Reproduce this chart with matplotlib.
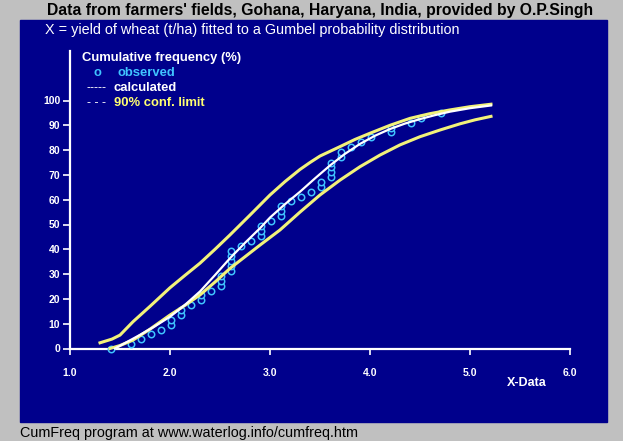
import numpy as np
import matplotlib.pyplot as plt
from matplotlib.patches import Rectangle

plt.rcParams['font.family'] = ['Liberation Sans', 'DejaVu Sans']

# observed points (x = yield t/ha, y = cumulative frequency %)
obs_x = [1.41, 1.61, 1.71, 1.81, 1.91, 2.01, 2.01, 2.11, 2.11, 2.21,
         2.31, 2.31, 2.41, 2.51, 2.51, 2.51, 2.61, 2.61, 2.61, 2.61,
         2.61, 2.71, 2.81, 2.91, 2.91, 2.91, 3.01, 3.11, 3.11, 3.11,
         3.21, 3.31, 3.41, 3.51, 3.51, 3.61, 3.61, 3.61, 3.61, 3.71,
         3.71, 3.81, 3.91, 4.01, 4.21, 4.21, 4.41, 4.51, 4.71]
obs_y = [0.0, 1.8, 3.7, 5.7, 7.6, 9.6, 11.5, 13.5, 15.5, 17.5,
         19.4, 21.5, 23.3, 25.2, 27.2, 29.2, 31.3, 33.4, 35.4, 37.4,
         39.3, 41.5, 43.5, 45.5, 47.5, 49.5, 51.5, 53.5, 55.5, 57.5,
         59.3, 61.2, 63.2, 65.1, 67.1, 69.0, 71.0, 73.0, 75.0, 77.2,
         79.2, 81.2, 83.2, 85.2, 87.1, 89.1, 91.1, 93.1, 95.1]

# calculated Gumbel curve
calc_x = [1.45, 1.6, 1.7, 1.85, 2.0, 2.15, 2.3, 2.45, 2.6, 2.75, 2.9, 3.0,
          3.15, 3.3, 3.45, 3.6, 3.75, 3.9, 4.05, 4.2, 4.35, 4.5, 4.65, 4.8,
          5.0, 5.21]
calc_y = [0.0, 3.3, 5.5, 9.0, 12.8, 17.6, 23.0, 29.6, 36.4, 42.6, 48.5, 52.8,
          58.2, 63.2, 68.6, 73.8, 78.5, 82.5, 85.8, 88.5, 90.7, 92.5, 94.1,
          95.5, 96.9, 98.0]

# 90% confidence limits
up_x = [1.3, 1.42, 1.5, 1.63, 1.8, 2.0, 2.15, 2.3, 2.45, 2.6, 2.8, 3.0,
        3.15, 3.3, 3.4, 3.5, 3.7, 3.85, 4.0, 4.2, 4.4, 4.6, 4.8, 5.0, 5.21]
up_y = [2.3, 3.8, 5.4, 10.8, 17.0, 24.5, 29.5, 34.4, 40.0, 45.8, 53.8, 61.9,
        67.3, 72.2, 75.0, 77.6, 81.4, 84.3, 86.8, 90.0, 92.8, 94.7, 96.2,
        97.5, 98.5]
lo_x = [1.4, 1.5, 1.63, 1.8, 2.0, 2.15, 2.3, 2.45, 2.6, 2.75, 2.9, 3.1,
        3.3, 3.5, 3.7, 3.9, 4.1, 4.3, 4.5, 4.7, 4.9, 5.05, 5.21]
lo_y = [0.0, 1.2, 3.4, 7.8, 13.5, 17.4, 21.6, 26.8, 32.3, 37.0, 41.7, 47.8,
        55.0, 61.9, 67.9, 73.3, 78.0, 82.1, 85.4, 88.1, 90.6, 92.2, 93.6]

navy = '#00008c'
cyan = '#40c4ff'
yel = '#f2f27a'

fig = plt.figure(figsize=(6.23, 4.41), dpi=100, facecolor='#c0c0c0')
fig.patches.append(Rectangle((20/623, 1-422/441), 587/623, 402/441,
                             transform=fig.transFigure, color=navy, zorder=-5))

ax = fig.add_axes([70/623, (441-348.5)/441, 500/623, 120*2.48/441])
ax.set_zorder(2)
ax.set_facecolor('none')
ax.set_xlim(1, 6)
ax.set_ylim(0, 120)

for s in ['top', 'right']:
    ax.spines[s].set_visible(False)
for s in ['left', 'bottom']:
    ax.spines[s].set_color('white')
    ax.spines[s].set_linewidth(1.6)

ax.set_xticks([1, 2, 3, 4, 5, 6])
ax.set_xticklabels(['1.0', '2.0', '3.0', '4.0', '5.0', '6.0'])
ax.set_yticks(range(0, 101, 10))
ax.tick_params(colors='white', labelsize=7.5, width=1.2)
ax.tick_params(axis='x', length=4, pad=10)
ax.tick_params(axis='y', length=5, pad=2)
for lab in ax.get_xticklabels() + ax.get_yticklabels():
    lab.set_fontweight('bold')

ax.plot(obs_x, obs_y, 'o', ms=4.6, mfc=navy, mec=cyan, mew=1.1,
        zorder=3, clip_on=False)
ax.plot(up_x, up_y, color=yel, lw=2.2, zorder=4, clip_on=False)
ax.plot(lo_x, lo_y, color=yel, lw=2.2, zorder=4, clip_on=False)
ax.plot(calc_x, calc_y, color='white', lw=1.6, zorder=5, clip_on=False)

fig.text(320/623, 1-11/441, "Data from farmers' fields, Gohana, Haryana, India, provided by O.P.Singh",
         ha='center', va='center', fontsize=11.3, fontweight='bold', color='black')
fig.text(45/623, 1-30/441, "X = yield of wheat (t/ha) fitted to a Gumbel probability distribution",
         ha='left', va='center', fontsize=10.4, color='white')
fig.text(82/623, 1-58/441, "Cumulative frequency (%)", ha='left', va='center',
         fontsize=9.4, fontweight='bold', color='white')
fig.text(93/623, 1-73/441, "o", ha='left', va='center', fontsize=9.4,
         fontweight='bold', color=cyan)
fig.text(118/623, 1-73/441, "observed", ha='left', va='center', fontsize=9.4,
         fontweight='bold', color=cyan)
fig.text(87/623, 1-88/441, "-----", ha='left', va='center', fontsize=9,
         color='white')
fig.text(114/623, 1-88/441, "calculated", ha='left', va='center', fontsize=9.4,
         fontweight='bold', color='white')
fig.text(87/623, 1-103/441, "- - -", ha='left', va='center', fontsize=9,
         color='white')
fig.text(114/623, 1-103/441, "90% conf. limit", ha='left', va='center',
         fontsize=9.4, fontweight='bold', color='#ffff70')
fig.text(527/623, 1-383/441, "X-Data", ha='center', va='center', fontsize=9,
         fontweight='bold', color='white')
fig.text(20/623, 1-433/441, "CumFreq program at www.waterlog.info/cumfreq.htm",
         ha='left', va='center', fontsize=10.4, color='black')

fig.savefig('out.png', dpi=100, facecolor=fig.get_facecolor())
